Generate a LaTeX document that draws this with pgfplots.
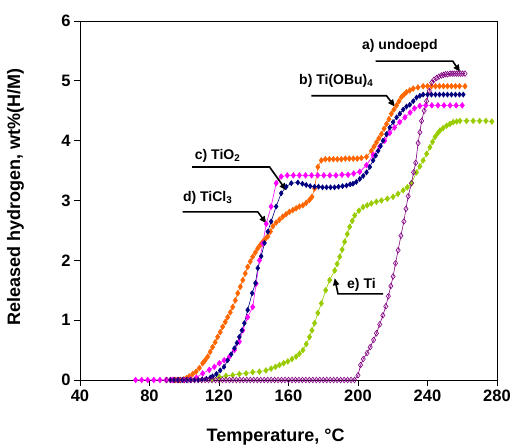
\documentclass[border=0pt]{standalone}
\usepackage{fontspec}
\setmainfont{Liberation Sans}
\usepackage{pgfplots}
\pgfplotsset{compat=1.18}
\usetikzlibrary{arrows.meta}

\definecolor{cpurple}{RGB}{128,0,128}
\definecolor{cnavy}{RGB}{0,0,128}
\definecolor{cmag}{RGB}{255,0,255}
\definecolor{corange}{RGB}{255,102,0}
\definecolor{cgreen}{RGB}{153,204,0}

\begin{document}
\begin{tikzpicture}
\useasboundingbox (-80pt,-66pt) rectangle (435pt,380pt);
\begin{axis}[
  scale only axis, width=417pt, height=359pt,
  xmin=40, xmax=280, ymin=0, ymax=6,
  xtick={40,80,...,280}, ytick={0,1,...,6},
  tick align=outside, major tick length=6pt,
  xtick pos=bottom, ytick pos=left,
  tick style={black, line width=0.8pt},
  axis line style={line width=0.8pt},
  /pgf/number format/assume math mode=true,
  tick label style={font=\fontsize{16.5}{18}\selectfont\bfseries},
  xlabel={Temperature, °C},
  ylabel={Released hydrogen, wt\%(H/M)},
  every axis x label/.style={at={(axis description cs:0.469,-0.172)}, anchor=base,
    font=\fontsize{18}{20}\selectfont\bfseries},
  every axis y label/.style={at={(axis description cs:-0.126,0.51)}, anchor=south, rotate=90,
    font=\fontsize{18}{20}\selectfont\bfseries},
  clip=false,
  every axis plot/.append style={line width=0.6pt},
]
% e) Ti
\addplot[cgreen, mark=diamond*, mark size=2.8pt, mark options={fill=cgreen}] coordinates {
(116,0.01)(120.2,0.05)(124,0.07)(127.9,0.08)(131.7,0.1)(135.6,0.11)(139.4,0.13)(143.3,0.14)
(147,0.16)(150,0.19)(152.5,0.22)(154.8,0.25)(157.2,0.28)(159.6,0.31)(162,0.35)(164.4,0.39)
(166.3,0.44)(168.3,0.5)(170.2,0.6)(172.1,0.72)(173.5,0.83)(175,0.95)(176.9,1.12)(178.9,1.28)
(181.4,1.5)(183.7,1.67)(186.6,1.83)(188,1.94)(189.5,2.06)(190.9,2.18)(192.3,2.31)(193.8,2.44)
(195.2,2.56)(196.7,2.66)(198.1,2.75)(200.5,2.83)(202.9,2.89)(205.3,2.92)(207.7,2.95)(210.6,2.98)
(213.5,3.0)(216.9,3.03)(220.2,3.06)(223,3.11)(226,3.17)(228.4,3.22)(230.8,3.29)(233.7,3.47)
(235.6,3.57)(237.5,3.67)(239.5,3.78)(241.4,3.89)(242.9,3.98)(244.3,4.06)(245.8,4.12)(247.2,4.17)
(249,4.21)(251,4.25)(252.9,4.28)(254.8,4.31)(256.8,4.32)(258.7,4.33)(262.5,4.33)(266.3,4.33)
(270,4.33)(273.6,4.33)(277,4.32)};
% d) TiCl3
\addplot[corange, mark=diamond*, mark size=2.8pt, mark options={fill=corange}] coordinates {
(95,0)(97.3,0)(99.6,0.01)(101.3,0.03)(102.9,0.06)(104.9,0.1)(106.8,0.14)(108.7,0.2)(110.6,0.28)
(112,0.33)(113.5,0.39)(114.9,0.47)(116.3,0.55)(117.8,0.63)(119.2,0.72)(120.7,0.8)(122.1,0.89)
(123.6,0.97)(125,1.05)(126.5,1.13)(127.9,1.22)(129.4,1.33)(130.8,1.45)(132.3,1.56)(133.7,1.67)
(135.1,1.78)(136.5,1.89)(138,1.98)(139.4,2.06)(140.9,2.13)(142.3,2.2)(143.8,2.26)(145.2,2.31)
(146.7,2.36)(148.1,2.4)(149.6,2.48)(151,2.57)(152.9,2.63)(154.8,2.68)(156.7,2.73)(158.6,2.77)
(160.5,2.81)(162.5,2.84)(164.4,2.87)(166.3,2.9)(168.3,2.92)(170.2,2.96)(172.1,3.01)(173.5,3.06)
(175,3.2)(176.9,3.56)(178.9,3.67)(181.2,3.69)(183.5,3.69)(185.8,3.69)(188.1,3.69)(190.4,3.69)
(192.7,3.7)(195,3.7)(197.3,3.7)(199.6,3.7)(201.9,3.71)(204.9,3.73)(207.7,3.83)(209.2,3.9)
(210.6,3.97)(212,4.04)(213.5,4.11)(215,4.2)(216.4,4.28)(217.8,4.36)(219.2,4.45)(220.7,4.52)
(222.2,4.59)(223.6,4.66)(225,4.73)(226.5,4.77)(227.9,4.81)(229.8,4.84)(231.8,4.87)(234.5,4.89)
(237.5,4.91)(240,4.91)(242.3,4.91)(244.6,4.91)(246.9,4.91)(249.2,4.91)(251.5,4.91)(253.8,4.91)
(256.1,4.91)(258.4,4.91)(261.6,4.91)};
% c) TiO2
\addplot[cmag, mark=diamond*, mark size=2.8pt, mark options={fill=cmag}] coordinates {
(72,0)(75.5,0)(79,0)(82.5,0)(86,0)(89.5,0)(93,0)(96.5,0)(100,0)(103.5,0.01)(107,0.04)
(110.6,0.11)(114.4,0.17)(117.3,0.22)(120.2,0.28)(123,0.33)(126,0.39)(128.9,0.5)(131.7,0.64)
(133.7,0.83)(136.5,1.05)(139.4,1.22)(141.4,1.61)(143.3,2.0)(145.2,2.28)(147.2,2.61)(150,2.9)
(152.9,3.29)(155.8,3.4)(159.3,3.42)(162.8,3.42)(166.3,3.42)(169.8,3.42)(173.3,3.42)(176.8,3.42)
(180.3,3.42)(183.8,3.42)(187.3,3.42)(190.8,3.43)(194.3,3.43)(197.5,3.45)(201,3.48)(204.9,3.59)
(208.7,3.76)(212.5,3.9)(215.4,4.0)(218.3,4.13)(221,4.22)(224,4.31)(227,4.39)(230,4.47)
(232.5,4.54)(235.6,4.58)(239,4.59)(242.5,4.59)(246,4.59)(249.5,4.59)(253,4.59)(256.5,4.59)
(260,4.59)};
% b) Ti(OBu)4
\addplot[cnavy, mark=diamond*, mark size=2.5pt, mark options={fill=cnavy}] coordinates {
(92,0)(94.3,0)(96.6,0)(98.9,0)(101.2,0)(103.5,0)(105.8,0)(108.1,0)(110.4,0.01)(112.7,0.02)
(115,0.04)(116.3,0.06)(118.5,0.1)(120.7,0.16)(122.9,0.22)(125,0.33)(127,0.43)(128.9,0.53)
(130.3,0.62)(131.7,0.72)(133.2,0.83)(134.6,0.95)(136.5,1.17)(139.1,1.45)(141,1.62)(142.3,1.87)
(144.3,2.07)(146.2,2.29)(148.1,2.48)(150,2.65)(152.9,2.9)(155.8,3.12)(158.7,3.23)(161.6,3.29)
(165.4,3.3)(168,3.28)(170.2,3.26)(172.5,3.24)(175,3.23)(177.3,3.23)(179.6,3.22)(181.9,3.22)
(184.2,3.22)(186.5,3.22)(188.8,3.23)(191.1,3.24)(193.4,3.25)(195.5,3.27)(197.1,3.28)(199,3.31)
(201,3.36)(203,3.41)(204.9,3.47)(206.8,3.56)(208.7,3.67)(210.2,3.75)(211.6,3.83)(213,3.91)
(214.4,4.0)(216.4,4.11)(218.3,4.22)(220.2,4.31)(222.2,4.39)(224.1,4.45)(226,4.52)(227.9,4.57)
(229.8,4.6)(231.8,4.66)(233.7,4.72)(235.6,4.75)(237.5,4.77)(240,4.77)(242.3,4.77)(244.6,4.77)
(246.9,4.77)(249.2,4.77)(251.5,4.77)(253.8,4.77)(256.1,4.77)(258.4,4.77)(260.6,4.77)};
% a) undoped
\addplot[cpurple, mark=diamond, mark size=2.8pt, mark options={fill=white, draw=cpurple}] coordinates {
(90,0)(92,0)(94,0)(96,0)(98,0)(100,0)(102,0)(104,0)(106,0)(108,0)(110,0)(112,0)(114,0)(116,0)
(118,0)(120,0)(122,0)(124,0)(126,0)(128,0)(130,0)(132,0)(134,0)(136,0)(138,0)(140,0)(142,0)
(144,0)(146,0)(148,0)(150,0)(152,0)(154,0)(156,0)(158,0)(160,0)(162,0)(164,0)(166,0)(168,0)
(170,0)(172,0)(174,0)(176,0)(178,0)(180,0)(182,0)(184,0)(186,0)(188,0)(190,0)(192,0)(194,0)
(196,0)(198,0)(200,0.08)(201.5,0.25)(203,0.35)(205.2,0.45)(207,0.55)(209,0.67)(210.6,0.78)
(212.5,0.93)(214.3,1.08)(216,1.23)(217.5,1.4)(218.9,1.57)(220.2,1.73)(221.6,1.95)(223.1,2.17)
(224.7,2.41)(226.4,2.65)(227.6,2.86)(228.9,3.07)(230.8,3.29)(232,3.47)(233.2,3.63)(234.6,3.96)
(235.6,4.14)(236.6,4.33)(238.1,4.5)(239.5,4.66)(241,4.83)(242.4,4.97)(243.8,5.02)(245.3,5.05)
(246.6,5.07)(248,5.09)(249.2,5.1)(250.4,5.11)(251.6,5.11)(253,5.12)(254.2,5.12)(255.4,5.12)
(256.6,5.12)(257.8,5.12)(259,5.12)(260.2,5.12)(261.6,5.12)};

% annotations
\tikzset{lab/.style={font=\fontsize{14}{16}\selectfont\bfseries, inner sep=0pt},
         arr/.style={black, line width=1.6pt, -{Triangle[length=7pt,width=6pt]}}}
\node[lab] at (axis cs:224.1,5.58) {a) undoepd};
\draw[arr] (axis cs:210.2,5.33) -- (axis cs:254.5,5.33) -- (axis cs:258.7,5.15);
\node[lab] at (axis cs:187.5,5.0) {b) Ti(OBu)\textsubscript{4}};
\draw[arr] (axis cs:173.1,4.75) -- (axis cs:216.4,4.75) -- (axis cs:221.2,4.57);
\node[lab] at (axis cs:119.2,3.75) {c) TiO\textsubscript{2}};
\draw[arr] (axis cs:104.5,3.56) -- (axis cs:149.1,3.56) -- (axis cs:158.7,3.17);
\node[lab] at (axis cs:113.5,3.05) {d) TiCl\textsubscript{3}};
\draw[arr] (axis cs:99,2.81) -- (axis cs:142.3,2.81) -- (axis cs:147.2,2.62);
\node[lab] at (axis cs:202,1.59) {e) Ti};
\draw[arr] (axis cs:214.4,1.44) -- (axis cs:188.5,1.44) -- (axis cs:186.6,1.7);
\end{axis}
\end{tikzpicture}
\end{document}
